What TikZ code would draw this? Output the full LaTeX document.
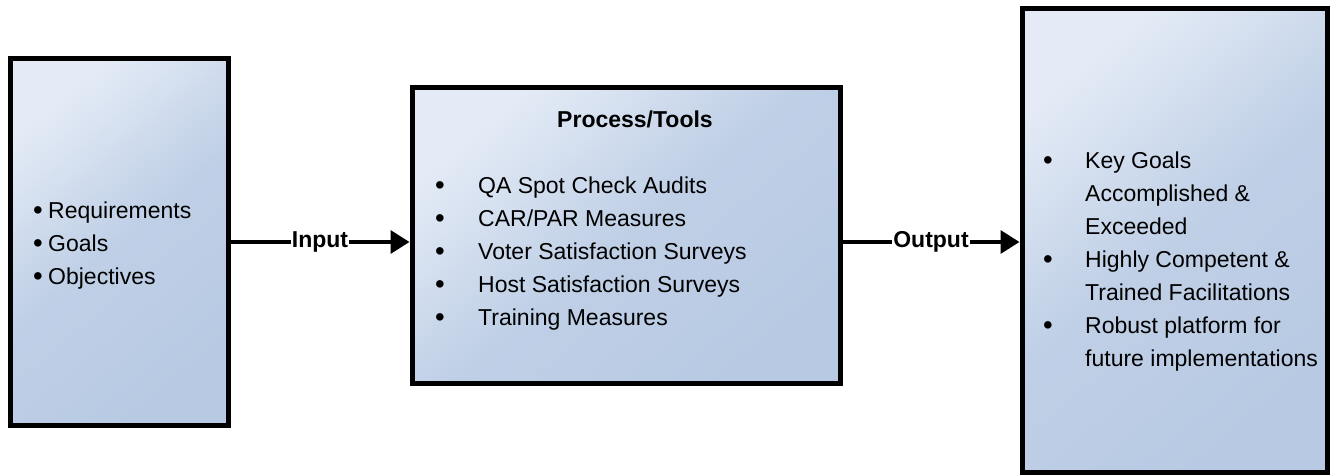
\documentclass[tikz,border=0pt]{standalone}
\usepackage{fontspec}
\setmainfont{Liberation Sans}
\usetikzlibrary{arrows.meta}
\definecolor{boxlight}{RGB}{228,235,246}
\definecolor{boxdark}{RGB}{184,202,227}
\newcommand{\bul}{\raisebox{-1.5pt}{\scalebox{1.2}{•}}}
\tikzset{
  box/.style={draw=black, line width=5pt, inner sep=0pt,
    top color=boxlight, bottom color=boxdark, middle color=boxdark!85!boxlight,
    shading angle=40},
  listtext/.style={anchor=base west, inner sep=0pt, font=\fontsize{23}{33}\selectfont, align=left},
  conn/.style={line width=3.5pt, -{Triangle[length=19pt,width=23pt]}},
  lbl/.style={fill=white, inner sep=1pt, font=\fontsize{23}{27}\selectfont\bfseries}
}
\begin{document}
\begin{tikzpicture}[x=1pt,y=-1pt]
\useasboundingbox (0,0) rectangle (1332,476);
\node[box, minimum width=218pt, minimum height=366pt] (in) at (119,242) {};
\node[box, minimum width=428pt, minimum height=295pt] (proc) at (626,235.5) {};
\node[box, minimum width=305pt, minimum height=463pt] (out) at (1174.5,240.5) {};

\node[listtext] (intext) at (33,218) {\begin{tabular}[t]{@{}p{15pt}@{}l@{}}
\bul&Requirements\\ \bul&Goals\\ \bul&Objectives\end{tabular}};

\node[anchor=base, inner sep=0pt, font=\fontsize{23}{27}\selectfont\bfseries] (ptitle) at (635,128) {Process/Tools};
\node[listtext] (ptext) at (435,193) {\begin{tabular}[t]{@{}p{43pt}@{}l@{}}
\bul&QA Spot Check Audits\\ \bul&CAR/PAR Measures\\ \bul&Voter Satisfaction Surveys\\ \bul&Host Satisfaction Surveys\\ \bul&Training Measures\end{tabular}};

\node[listtext] (otext) at (1043,168) {\begin{tabular}[t]{@{}p{42pt}@{}l@{}}
\bul&Key Goals\\ &Accomplished \&\\ &Exceeded\\ \bul&Highly Competent \&\\ &Trained Facilitations\\ \bul&Robust platform for\\ &future implementations\end{tabular}};

\draw[conn] (in.east) -- node[lbl] (inlbl) {Input} (in.east -| proc.west);
\draw[conn] (proc.east |- in.east) -- node[lbl] (outlbl) {Output} (out.west |- in.east);
\end{tikzpicture}
\end{document}
